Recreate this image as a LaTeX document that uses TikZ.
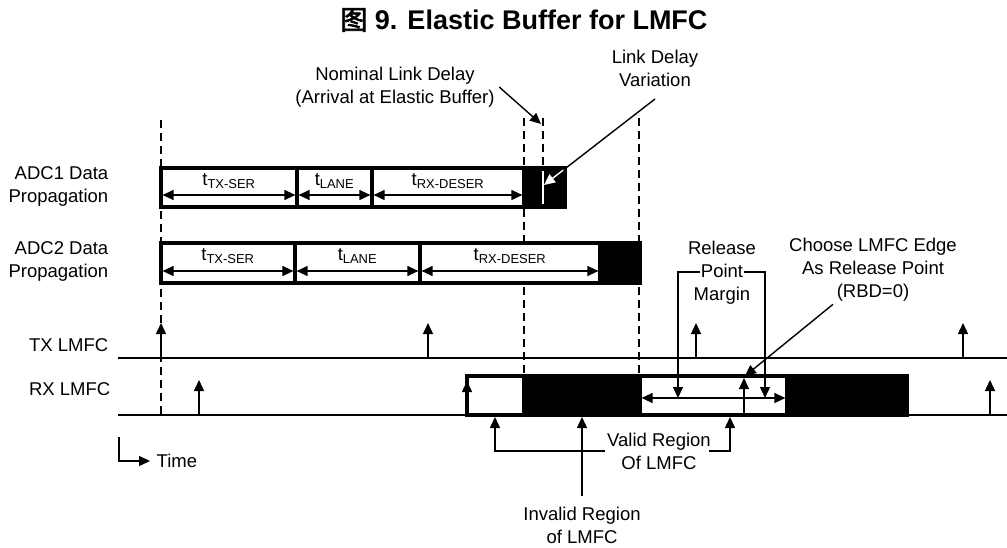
\documentclass[tikz,border=0pt]{standalone}
\usepackage{fontspec}
\setmainfont{Liberation Sans}
\newfontfamily\cjk[AutoFakeBold=2.5]{Noto Sans CJK SC}
\usetikzlibrary{positioning,arrows.meta,calc}
\tikzset{
  every picture/.style={line width=1.4pt},
  lbl/.style={font=\fontsize{18.5}{23}\selectfont,inner sep=0pt,align=center},
  lblr/.style={lbl,align=right,anchor=east},
  segbox/.style={draw,fill=white,line width=3.2pt},
  blackbox/.style={draw,fill=black,line width=3.2pt},
  guide/.style={line width=1.4pt,dash pattern=on 8pt off 5pt},
  edgearr/.style={-{Triangle[length=11pt,width=10pt]},line width=1.4pt},
  ptr/.style={-{Triangle[length=11pt,width=10pt]},line width=1.4pt},
  dimarr/.style={{Triangle[length=11pt,width=10pt]}-{Triangle[length=11pt,width=10pt]},
    line width=1.4pt,shorten <=1.6pt,shorten >=1.6pt},
}
\newcommand{\lmfc}[3]{% x, base y, tip y
  \draw[edgearr] (#1,#2) -- (#1,#3);}

\begin{document}
\begin{tikzpicture}[x=1pt,y=-1pt]
\useasboundingbox (0,0) rectangle (1007,548);
% --- title ---
\node[font=\fontsize{27}{32}\selectfont\bfseries,inner sep=0pt] (title) at (524,20)
  {{\cjk 图}~9. Elastic Buffer for LMFC};
% --- dashed guides ---
\draw[guide] (161,120) -- (161,415);
\draw[guide] (524,118) -- (524,376);
\draw[guide] (543,118) -- (543,168);
\draw[guide] (639,118) -- (639,376);
% --- LMFC lines ---
\draw (118,358) -- (1007,358);
\draw (118,415) -- (1007,415);
% --- ADC1 data propagation ---
\draw[blackbox] (524,168) rectangle (565,207);
\foreach \a/\b/\lab [count=\i] in {161/297/TX-SER,297/372/LANE,372/524/RX-DESER}{
  \draw[segbox] (\a,168) rectangle (\b,207);
  \draw[dimarr] (\a,195) -- (\b,195);
  \node[lbl] (sa\i) at ({(\a+\b)/2},181) {t\textsubscript{\lab}};
}
\draw[white,line width=1.6pt] (543,171) -- (543,204);
% --- ADC2 data propagation ---
\draw[blackbox] (600,243) rectangle (640,283);
\foreach \a/\b/\lab [count=\i] in {161/295/TX-SER,295/420/LANE,420/600/RX-DESER}{
  \draw[segbox] (\a,243) rectangle (\b,283);
  \draw[dimarr] (\a,271) -- (\b,271);
  \node[lbl] (sb\i) at ({(\a+\b)/2},256) {t\textsubscript{\lab}};
}
% --- elastic buffer on RX LMFC ---
\draw[blackbox] (524,376) rectangle (640,415);
\draw[blackbox] (787,376) rectangle (907,415);
\draw[segbox] (467,376) rectangle (524,415);
\draw[segbox] (640,376) rectangle (787,415);
% --- LMFC edges ---
\foreach \x in {161,428,696,963}{\lmfc{\x}{358}{323}}
\foreach \x in {199,990}{\lmfc{\x}{415}{380}}
\lmfc{467}{415}{381}
\lmfc{744}{415}{378}
% --- row labels ---
\node[lblr] (adc1) at (109,186) {ADC1 Data\\Propagation};
\node[lblr] (adc2) at (109,261) {ADC2 Data\\Propagation};
\node[lblr] (tx) at (109,345) {TX LMFC};
\node[lblr] (rx) at (111,389) {RX LMFC};
% --- time axis ---
\coordinate (t0) at (119,437);
\node[lbl,anchor=west] (time) at (156,461) {Time};
\draw[ptr] (t0) |- ([xshift=-6pt]time.west);
% --- link delay ---
\node[lbl] (nom) at (395,87) {Nominal Link Delay\\(Arrival at Elastic Buffer)};
\coordinate (nomtip) at (541,124);
\draw[ptr] ([xshift=4pt]nom.east) -- (nomtip);
\node[lbl] (ldv) at (655,68) {Link Delay\\Variation};
\coordinate (ldvtip) at (544,185);
\draw[ptr] ($(ldv.south)+(0,12)$) -- (ldvtip);
\begin{scope}
  \clip (525.6,169.6) rectangle (563.4,205.4);
  \draw[ptr,white] ($(ldv.south)+(0,12)$) -- (ldvtip);
\end{scope}
% --- release point ---
\node[lbl] (rpm) at (722,273) {Release\\Point\\Margin};
\draw[ptr] (700,272) -| (678,398);
\draw[ptr] (744,272) -| (765,398);
\draw[dimarr] (640,398) -- (787,398);
\node[lbl] (cho) at (873,270) {Choose LMFC Edge\\As Release Point\\(RBD=0)};
\coordinate (chotip) at (745,376);
\draw[ptr] ($(cho.south)+(-40,2)$) -- (chotip);
% --- valid / invalid regions ---
\node[lbl] (valid) at (659,451) {Valid Region\\Of LMFC};
\draw[ptr] ([xshift=-2pt]valid.west) -| (495,417);
\draw[ptr] ([xshift=-2pt]valid.east) -| (730,417);
\node[lbl] (invalid) at (582,525) {Invalid Region\\of LMFC};
\draw[ptr] ($(invalid.north)+(0,-10)$) -- (582,417);
\end{tikzpicture}
\end{document}
